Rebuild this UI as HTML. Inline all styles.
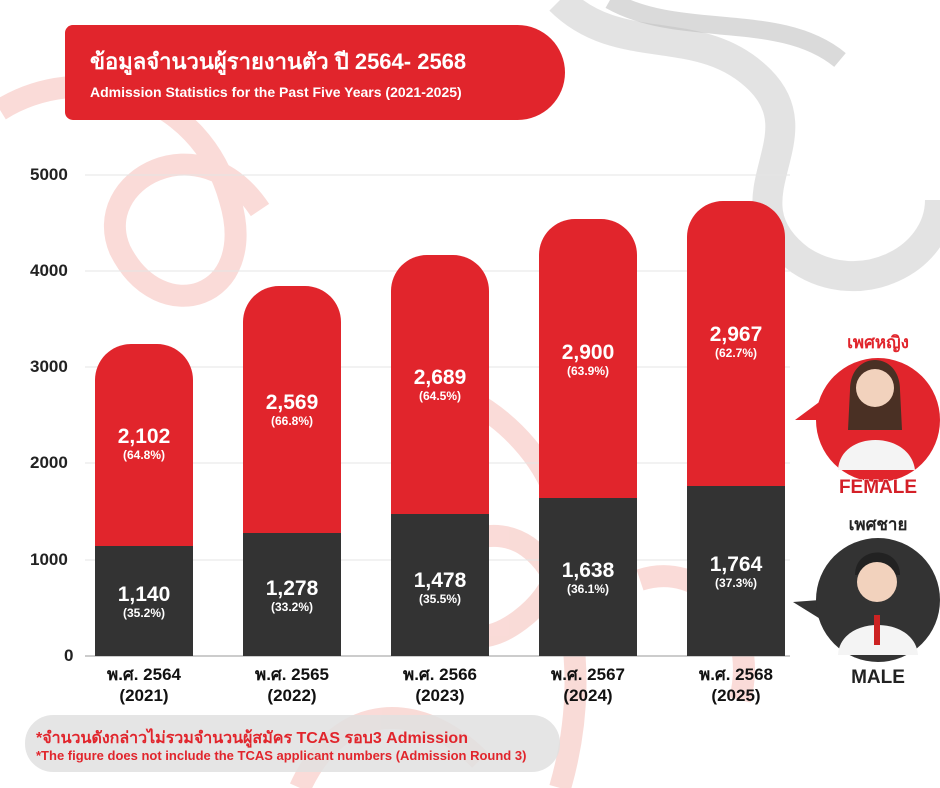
<!DOCTYPE html>
<html><head><meta charset="utf-8">
<style>
body{margin:0;width:940px;height:788px;overflow:hidden;background:#fff;font-family:"Liberation Sans","Noto Sans CJK SC",sans-serif;position:relative}
.abs{position:absolute}
.yl{position:absolute;left:30px;width:50px;font-size:17px;font-weight:bold;color:#222}
.bar{position:absolute;width:98px}
.red{background:#e1252c;border-radius:36px 36px 0 0}
.dk{background:#333333}
.v{position:absolute;width:98px;text-align:center;color:#fff;font-weight:bold;font-size:21px;line-height:22px}
.v span{display:block;font-size:12px;line-height:14px}
.xl{position:absolute;width:120px;text-align:center;font-weight:bold;font-size:17px;line-height:21px;color:#111;top:664px}
</style></head><body>
<svg class="abs" style="left:0;top:0" width="940" height="788">
<g fill="none" stroke="#f3b0a8" stroke-width="22" opacity="0.45">
<path d="M0 110 C80 60 200 90 230 200 C260 300 160 330 120 250 C90 180 200 120 260 210"/>
<path d="M470 400 C560 450 600 560 520 620 C440 680 400 560 470 540 C560 510 600 650 560 788"/>
<path d="M300 788 C340 700 420 700 480 760"/>
<path d="M640 580 C700 560 760 620 740 700"/>
</g>
<path d="M560 0 C620 60 700 20 760 80 C820 140 720 200 800 260 C860 300 940 260 940 200" fill="none" stroke="#ccc" stroke-width="30" opacity="0.55"/>
<path d="M610 0 C680 40 780 10 840 60" fill="none" stroke="#bbb" stroke-width="18" opacity="0.55"/>
<g stroke="#e4e4e4" stroke-width="1">
<line x1="85" y1="175" x2="790" y2="175"/><line x1="85" y1="271" x2="790" y2="271"/>
<line x1="85" y1="367" x2="790" y2="367"/><line x1="85" y1="463" x2="790" y2="463"/>
<line x1="85" y1="560" x2="790" y2="560"/>
</g>
<line x1="85" y1="656" x2="790" y2="656" stroke="#999" stroke-width="1"/>
<path d="M820 420 L795 420 L822 400 Z" fill="#e1252c"/>
<circle cx="878" cy="420" r="62" fill="#e1252c"/>
<path d="M850 390 C850 350 900 350 900 390 L902 430 L848 430 Z" fill="#4a3024"/>
<circle cx="875" cy="388" r="19" fill="#f2d2bd"/>
<path d="M838 470 C840 430 910 430 915 470 Z" fill="#f4f4f4"/>
<text x="878" y="348" text-anchor="middle" font-size="17" font-weight="bold" fill="#e1252c">เพศหญิง</text>
<text x="878" y="493" text-anchor="middle" font-size="19" font-weight="bold" fill="#d42028" stroke="#fff" stroke-width="1" paint-order="stroke">FEMALE</text>
<path d="M820 600 L793 602 L822 620 Z" fill="#333"/>
<circle cx="878" cy="600" r="62" fill="#333"/>
<path d="M855 575 C855 545 900 545 900 575 Z" fill="#222"/>
<circle cx="877" cy="582" r="20" fill="#f2d2bd"/>
<path d="M838 655 C840 615 915 615 918 655 Z" fill="#f4f4f4"/>
<rect x="874" y="615" width="6" height="30" fill="#c22"/>
<text x="878" y="530" text-anchor="middle" font-size="17" font-weight="bold" fill="#222">เพศชาย</text>
<text x="878" y="683" text-anchor="middle" font-size="19" font-weight="bold" fill="#222" stroke="#fff" stroke-width="1" paint-order="stroke">MALE</text>
</svg>

<div class="abs" style="left:65px;top:25px;width:500px;height:95px;background:#e1252c;border-radius:8px 48px 48px 8px"></div>
<div class="abs" style="left:90px;top:44px;color:#fff;font-weight:bold;font-size:22px">ข้อมูลจำนวนผู้รายงานตัว ปี 2564- 2568</div>
<div class="abs" style="left:90px;top:84px;color:#fff;font-weight:bold;font-size:14px">Admission Statistics for the Past Five Years (2021-2025)</div>

<div class="yl" style="top:165px">5000</div>
<div class="yl" style="top:261px">4000</div>
<div class="yl" style="top:357px">3000</div>
<div class="yl" style="top:453px">2000</div>
<div class="yl" style="top:550px">1000</div>
<div class="yl" style="top:646px;left:64px">0</div>

<div class="bar red" style="left:95px;top:344px;height:202px"></div><div class="bar dk" style="left:95px;top:546px;height:110px"></div>
<div class="bar red" style="left:243px;top:286px;height:247px"></div><div class="bar dk" style="left:243px;top:533px;height:123px"></div>
<div class="bar red" style="left:391px;top:255px;height:259px"></div><div class="bar dk" style="left:391px;top:514px;height:142px"></div>
<div class="bar red" style="left:539px;top:219px;height:279px"></div><div class="bar dk" style="left:539px;top:498px;height:158px"></div>
<div class="bar red" style="left:687px;top:201px;height:285px"></div><div class="bar dk" style="left:687px;top:486px;height:170px"></div>

<div class="v" style="left:95px;top:426px">2,102<span>(64.8%)</span></div>
<div class="v" style="left:243px;top:392px">2,569<span>(66.8%)</span></div>
<div class="v" style="left:391px;top:367px">2,689<span>(64.5%)</span></div>
<div class="v" style="left:539px;top:342px">2,900<span>(63.9%)</span></div>
<div class="v" style="left:687px;top:324px">2,967<span>(62.7%)</span></div>
<div class="v" style="left:95px;top:584px">1,140<span>(35.2%)</span></div>
<div class="v" style="left:243px;top:578px">1,278<span>(33.2%)</span></div>
<div class="v" style="left:391px;top:570px">1,478<span>(35.5%)</span></div>
<div class="v" style="left:539px;top:560px">1,638<span>(36.1%)</span></div>
<div class="v" style="left:687px;top:554px">1,764<span>(37.3%)</span></div>

<div class="xl" style="left:84px">พ.ศ. 2564<br>(2021)</div>
<div class="xl" style="left:232px">พ.ศ. 2565<br>(2022)</div>
<div class="xl" style="left:380px">พ.ศ. 2566<br>(2023)</div>
<div class="xl" style="left:528px">พ.ศ. 2567<br>(2024)</div>
<div class="xl" style="left:676px">พ.ศ. 2568<br>(2025)</div>

<div class="abs" style="left:25px;top:715px;width:535px;height:57px;background:rgba(225,225,225,0.85);border-radius:28px"></div>
<div class="abs" style="left:36px;top:726px;color:#e1252c;font-weight:bold;font-size:16px">*จำนวนดังกล่าวไม่รวมจำนวนผู้สมัคร TCAS รอบ3 Admission</div>
<div class="abs" style="left:36px;top:748px;color:#e1252c;font-weight:bold;font-size:13px">*The figure does not include the TCAS applicant numbers (Admission Round 3)</div>
</body></html>
